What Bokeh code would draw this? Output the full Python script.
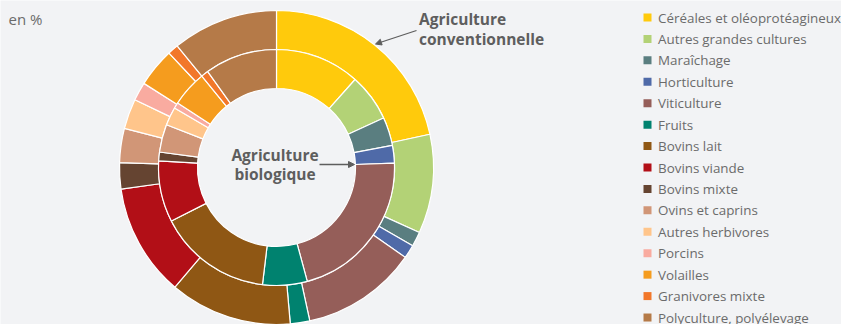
import numpy as np
from bokeh.plotting import figure
from bokeh.models import Range1d, Arrow, NormalHead
from bokeh.core.properties import value
from bokeh.embed import file_html
from bokeh.resources import INLINE

W, H = 841, 324

categories = ["Céréales et oléoprotéagineux", "Autres grandes cultures", "Maraîchage",
              "Horticulture", "Viticulture", "Fruits", "Bovins lait", "Bovins viande",
              "Bovins mixte", "Ovins et caprins", "Autres herbivores", "Porcins",
              "Volailles", "Granivores mixte", "Polyculture, polyélevage"]
conventionnelle = [21.6, 10.2, 1.5, 1.4, 11.9, 2.0, 12.6, 11.6, 2.7, 3.5, 3.1, 1.9, 4.0, 1.1, 10.9]
biologique = [11.6, 6.5, 3.9, 2.4, 21.4, 6.1, 15.6, 8.4, 1.2, 3.8, 2.5, 0.8, 4.9, 1.0, 9.9]
colors = ["#ffca0c", "#b3d276", "#5a7e80", "#4f6aa8", "#955e59", "#00826f", "#8f5714",
          "#b20f17", "#654431", "#d19677", "#ffc58b", "#f9aba0", "#f59c1e", "#f2772a", "#b57a48"]

FONT = "Open Sans"
TXT = "#6b6b6b"
BG = "#f2f3f5"

p = figure(width=W, height=H, x_range=Range1d(0, W), y_range=Range1d(0, H),
           output_backend="svg", toolbar_location=None,
           min_border=0, min_border_left=0, min_border_right=0,
           min_border_top=0, min_border_bottom=0,
           background_fill_color=BG, border_fill_color=BG, outline_line_color=None)
p.axis.visible = False
p.grid.visible = False

cx, cy = 276, H - 167


def angles(vals):
    v = np.array(vals, dtype=float)
    frac = v / v.sum()
    cum = np.concatenate([[0], np.cumsum(frac)])
    start = np.pi / 2 - cum[:-1] * 2 * np.pi
    end = np.pi / 2 - cum[1:] * 2 * np.pi
    return start, end


s_o, e_o = angles(conventionnelle)
s_i, e_i = angles(biologique)

p.annular_wedge(x=cx, y=cy, inner_radius=118, outer_radius=157,
                start_angle=s_o, end_angle=e_o, direction="clock",
                fill_color=colors, line_color="white", line_width=1.2)
p.annular_wedge(x=cx, y=cy, inner_radius=79, outer_radius=118,
                start_angle=s_i, end_angle=e_i, direction="clock",
                fill_color=colors, line_color="white", line_width=1.2)

# Legend
ly = [H - (17.0 + 21.43 * i) for i in range(len(categories))]
p.scatter(x=[647] * len(categories), y=ly, marker="square", size=8,
          fill_color=colors, line_color=None)
p.text(x=[657.5] * len(categories), y=ly, text=categories, text_font=value(FONT),
       text_font_size="13.4px", text_color=TXT, text_baseline="middle", text_align="left")

# Unit label
p.text(x=[8], y=[H - 18.5], text=["en %"], text_font=value(FONT), text_font_size="15px",
       text_color=TXT, text_baseline="middle", text_align="left")

# Annotations
ANN = "#5e5e5e"
p.text(x=[418.5, 418.5], y=[H - 18.5, H - 38], text=["Agriculture", "conventionnelle"],
       text_font=value(FONT), text_font_size="15.5px", text_font_style="bold",
       text_color=ANN, text_baseline="middle", text_align="left")
p.add_layout(Arrow(end=NormalHead(size=6, fill_color=ANN, line_color=ANN, line_width=1),
                   x_start=416, y_start=H - 30, x_end=375, y_end=H - 43.5,
                   line_color=ANN, line_width=1.3))

p.text(x=[274.5, 274.5], y=[H - 154.5, H - 173], text=["Agriculture", "biologique"],
       text_font=value(FONT), text_font_size="15.5px", text_font_style="bold",
       text_color=ANN, text_baseline="middle", text_align="center")
p.add_layout(Arrow(end=NormalHead(size=6, fill_color=ANN, line_color=ANN, line_width=1),
                   x_start=319, y_start=H - 164, x_end=354, y_end=H - 164,
                   line_color=ANN, line_width=1.3))

open("out.html", "w").write(file_html(p, INLINE))
